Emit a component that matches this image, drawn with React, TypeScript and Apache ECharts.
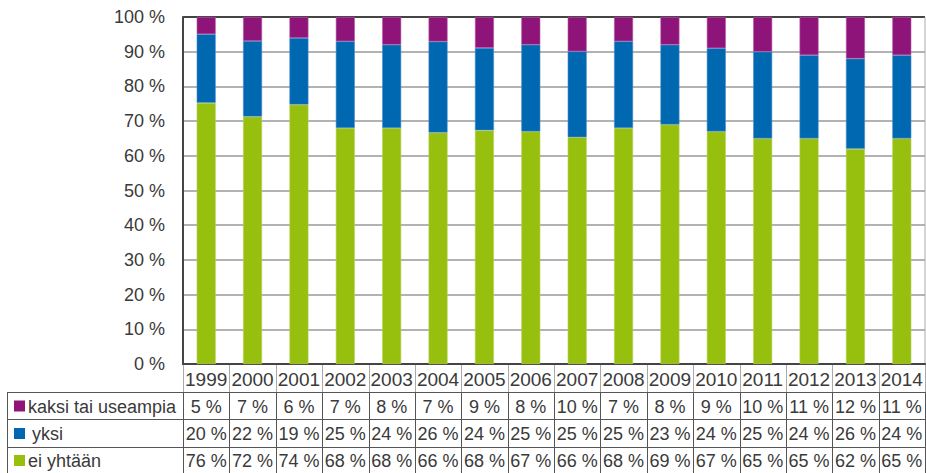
import React, { useEffect, useRef } from "react";
import * as echarts from "echarts";

const years = ["1999","2000","2001","2002","2003","2004","2005","2006","2007","2008","2009","2010","2011","2012","2013","2014"];
const kaksi = [5, 7, 6, 7, 8, 7, 9, 8, 10, 7, 8, 9, 10, 11, 12, 11];
const yksi = [20, 22, 19, 25, 24, 26, 24, 25, 25, 25, 23, 24, 25, 24, 26, 24];
const eiYhtaan = [76, 72, 74, 68, 68, 66, 68, 67, 66, 68, 69, 67, 65, 65, 62, 65];
const yTicks = [0, 10, 20, 30, 40, 50, 60, 70, 80, 90, 100];

const seriesNames = ["kaksi tai useampia", "yksi", "ei yhtään"];
const colors = ["#8F1479", "#0067B1", "#97BF0D"];
const borderColors = ["#B65AA4", "#4C8FCB", "#B7D45A"];

const FONT = "'Liberation Sans', Arial, sans-serif";
const TXT = "#3a3a3a";

export default function App() {
  const ref = useRef<HTMLDivElement>(null);
  useEffect(() => {
    document.body.style.margin = "0";
    const chart = echarts.init(ref.current!, null, { renderer: "svg" });
    const totals = years.map((_, i) => kaksi[i] + yksi[i] + eiYhtaan[i]);
    const norm = (arr: number[]) => arr.map((v, i) => (v / totals[i]) * 100);

    const left = 183, right = 925, top = 17, bottom = 364;
    const stackOrder = [
      { name: seriesNames[2], data: norm(eiYhtaan), c: 2 },
      { name: seriesNames[1], data: norm(yksi), c: 1 },
      { name: seriesNames[0], data: norm(kaksi), c: 0 },
    ];
    chart.setOption({
      animation: false,
      grid: { left, right: 926 - right, top, bottom: 473 - bottom, outerBoundsMode: "none" },
      xAxis: {
        type: "category",
        data: years,
        axisTick: { show: false },
        axisLine: { lineStyle: { color: "#444", width: 2 } },
        axisLabel: { fontSize: 19, color: TXT, fontFamily: FONT, margin: 6, interval: 0 },
      },
      yAxis: {
        type: "value",
        min: yTicks[0],
        max: yTicks[yTicks.length - 1],
        interval: 10,
        axisLine: { show: true, lineStyle: { color: "#444", width: 2 } },
        axisTick: { show: false },
        splitLine: { lineStyle: { color: "#999", width: 1.5 } },
        axisLabel: { fontSize: 18, color: TXT, fontFamily: FONT, margin: 18, formatter: (v: number) => `${v} %` },
      },
      series: stackOrder.map((s) => ({
        type: "bar",
        name: s.name,
        stack: "total",
        barWidth: 19,
        data: s.data,
        itemStyle: { color: colors[s.c], borderColor: borderColors[s.c], borderWidth: 0.6 },
      })),
    });

    const xs = years.map((_, i) => chart.convertToPixel({ xAxisIndex: 0 }, i) as number);
    const colW = (right - left) / years.length;
    const rowLines = [392, 419, 447, 473];
    const rows = [kaksi, yksi, eiYhtaan];
    const g: any[] = [];
    g.push({ type: "line", shape: { x1: left, y1: top, x2: right, y2: top }, style: { stroke: "#444", lineWidth: 2 } });
    g.push({ type: "line", shape: { x1: right, y1: top, x2: right, y2: bottom }, style: { stroke: "#aaa", lineWidth: 1 } });
    for (let i = 0; i <= years.length; i++) {
      const x = Math.round(left + i * colW) + 0.5;
      g.push({ type: "line", shape: { x1: x, y1: bottom, x2: x, y2: rowLines[0] }, style: { stroke: "#aaa", lineWidth: 1 } });
      g.push({ type: "line", shape: { x1: x, y1: rowLines[0], x2: x, y2: 473 }, style: { stroke: "#555", lineWidth: 1 } });
    }
    g.push({ type: "line", shape: { x1: 7.5, y1: rowLines[0], x2: 7.5, y2: 473 }, style: { stroke: "#555", lineWidth: 1 } });
    for (let r = 0; r < 3; r++) {
      const y = rowLines[r] + 0.5;
      g.push({ type: "line", shape: { x1: 7, y1: y, x2: right + 1, y2: y }, style: { stroke: "#555", lineWidth: 1 } });
    }
    for (let r = 0; r < 3; r++) {
      const yc = (rowLines[r] + rowLines[r + 1]) / 2 + 1;
      g.push({ type: "rect", shape: { x: 14, y: yc - 6, width: 11, height: 11 }, style: { fill: colors[r] } });
      g.push({
        type: "text", x: r === 1 ? 32 : 28, y: yc, style: { text: seriesNames[r], fontSize: 18, fontFamily: FONT, fill: TXT, verticalAlign: "middle", align: "left" },
      });
      rows[r].forEach((v, i) => {
        g.push({
          type: "text", x: xs[i], y: yc, style: { text: `${v} %`, fontSize: 18, fontFamily: FONT, fill: TXT, verticalAlign: "middle", align: "center" },
        });
      });
    }
    chart.setOption({ graphic: g });
    return () => chart.dispose();
  }, []);
  return <div ref={ref} style={{ width: 926, height: 473 }} />;
}
